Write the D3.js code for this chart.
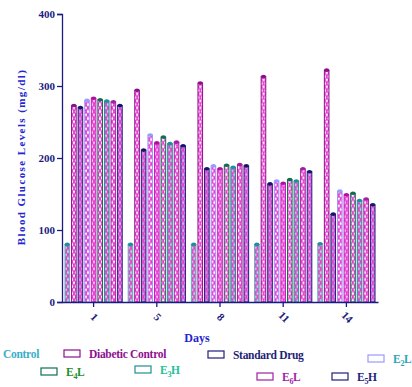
<!DOCTYPE html>
<html>
<head>
<meta charset="utf-8">
<script src="https://cdn.jsdelivr.net/npm/d3@7.9.0/dist/d3.min.js"></script>
<style>
  body { margin: 0; background: #fff; }
  svg text { font-family: 'Liberation Serif', 'Times New Roman', serif; font-weight: bold; }
</style>
</head>
<body>
<svg id="chart"></svg>
<script>
// days on the x axis
const days = ['1', '5', '8', '11', '14'];

// bar series, in drawing order inside each day group
const series = ['Control', 'Diabetic Control', 'Standard Drug', 'E2L', 'E2H', 'E4L', 'E3H', 'E6L', 'E5H'];

// blood glucose (mg/dl) per series, one value per day
const control   = [80, 80, 80, 80, 81];
const diabetic  = [273, 294, 304, 313, 322];
const standard  = [270, 211, 185, 164, 122];
const e2l       = [280, 232, 189, 168, 154];
const e2h       = [283, 221, 185, 165, 149];
const e4l       = [281, 229, 190, 170, 151];
const e3h       = [279, 220, 187, 168, 141];
const e6l       = [278, 222, 191, 185, 143];
const e5h       = [273, 217, 189, 181, 135];

const yTicks = [0, 100, 200, 300, 400];

const values = [control, diabetic, standard, e2l, e2h, e4l, e3h, e6l, e5h];

// outline / cap colour and pattern background for each series
const strokeColor = ['#5fb3b3', '#8e0f8e', '#1f1f78', '#9a9aff', '#c21fc2', '#0f6e4e', '#1f9090', '#a11fa1', '#1f1f80'];
const capColor    = ['#1f8f9a', '#8e0f8e', '#15156e', '#9a9aff', '#b0109e', '#0f6e4e', '#1f8f9a', '#a11fa1', '#15156e'];
const fillBg      = ['#a9d9d9', '#ffffff', '#b9a0dd', '#ffffff', '#f6c6f0', '#ffffff', '#a9d9d9', '#ffffff', '#c6b6ee'];

// legend entries: series index, box position, text colour
const legend = [
  { i: 0, x: -22, y: 350, text: 'Control', color: '#3aaec8' },
  { i: 1, x: 64, y: 350, text: 'Diabetic Control', color: '#8e108e' },
  { i: 2, x: 208, y: 351, text: 'Standard Drug', color: '#1f1f78' },
  { i: 3, x: 368, y: 355, text: 'E', sub: '2', tail: 'L', color: '#2fa5b5' },
  { i: 5, x: 41, y: 368, text: 'E', sub: '4', tail: 'L', color: '#1e8f2e' },
  { i: 6, x: 135, y: 366, text: 'E', sub: '3', tail: 'H', color: '#22c29a' },
  { i: 7, x: 257, y: 373, text: 'E', sub: '6', tail: 'L', color: '#a11fa1' },
  { i: 8, x: 332, y: 373, text: 'E', sub: '5', tail: 'H', color: '#1f1f78' },
];

const width = 412;
const height = 387;
const margin = { top: 14, right: 34, bottom: 85, left: 62 };

const svg = d3.select('#chart').attr('width', width).attr('height', height);

// hatched fill, one pattern per series
const defs = svg.append('defs');
series.forEach((s, i) => {
  const p = defs.append('pattern')
    .attr('id', 'hatch' + i)
    .attr('patternUnits', 'userSpaceOnUse')
    .attr('width', 4)
    .attr('height', 7);
  p.append('rect').attr('width', 4).attr('height', 7).attr('fill', fillBg[i]);
  p.append('path')
    .attr('d', 'M0,0 Q3,3.5 4,7 M4,0 Q1,3.5 0,7')
    .attr('fill', 'none')
    .attr('stroke', '#e83dd0')
    .attr('stroke-width', 1.3);
});

const x0 = d3.scaleBand()
  .domain(days)
  .range([margin.left, width - margin.right]);

const x1 = d3.scaleBand()
  .domain(series)
  .range([1, x0.bandwidth() - 1])
  .padding(0.3);

const y = d3.scaleLinear()
  .domain([0, 400])
  .range([height - margin.bottom, margin.top]);

const axisColor = '#1c1c80';

// bars
const groups = svg.append('g')
  .selectAll('g')
  .data(days)
  .join('g')
  .attr('transform', (d) => `translate(${x0(d)},0)`);

groups.selectAll('rect')
  .data((d, di) => series.map((s, si) => ({ s, si, v: values[si][di] })))
  .join('rect')
  .attr('x', (d) => x1(d.s))
  .attr('y', (d) => y(d.v))
  .attr('width', x1.bandwidth())
  .attr('height', (d) => y(0) - y(d.v))
  .attr('fill', (d) => `url(#hatch${d.si})`)
  .attr('stroke', (d) => strokeColor[d.si])
  .attr('stroke-width', 1);

groups.selectAll('ellipse')
  .data((d, di) => series.map((s, si) => ({ s, si, v: values[si][di] })))
  .join('ellipse')
  .attr('cx', (d) => x1(d.s) + x1.bandwidth() / 2)
  .attr('cy', (d) => y(d.v))
  .attr('rx', 2.6)
  .attr('ry', 1.8)
  .attr('fill', (d) => capColor[d.si]);

// y axis
const yAxis = svg.append('g')
  .attr('transform', `translate(${margin.left},0)`)
  .call(d3.axisLeft(y).tickValues(yTicks).tickSize(5).tickPadding(2));
yAxis.selectAll('path, line').attr('stroke', axisColor).attr('stroke-width', 1.3);
yAxis.selectAll('text')
  .attr('fill', axisColor)
  .style('font-size', '11px');

// x axis
const xAxis = svg.append('g')
  .attr('transform', `translate(0,${y(0)})`)
  .call(d3.axisBottom(x0).tickSize(5).tickSizeOuter(0));
xAxis.selectAll('path, line').attr('stroke', axisColor).attr('stroke-width', 1.3);
xAxis.selectAll('text')
  .attr('fill', axisColor)
  .style('font-size', '11px')
  .attr('text-anchor', 'middle')
  .attr('dy', null)
  .attr('y', 0)
  .attr('transform', 'translate(0,16) rotate(45)')
  .attr('dominant-baseline', 'middle');

// axis titles
svg.append('text')
  .attr('x', 197)
  .attr('y', 342)
  .attr('text-anchor', 'middle')
  .attr('fill', '#2424d0')
  .style('font-size', '12px')
  .text('Days');

svg.append('text')
  .attr('transform', 'translate(25,157) rotate(-90)')
  .attr('text-anchor', 'middle')
  .attr('fill', '#2424d0')
  .style('font-size', '11px')
  .style('letter-spacing', '1.4px')
  .text('Blood Glucose Levels (mg/dl)');

// legend
const lg = svg.append('g')
  .selectAll('g')
  .data(legend)
  .join('g')
  .attr('transform', (d) => `translate(${d.x},${d.y})`);

lg.append('rect')
  .attr('width', 16)
  .attr('height', 7)
  .attr('fill', '#fff')
  .attr('stroke', (d) => strokeColor[d.i])
  .attr('stroke-width', 1.2);

const lt = lg.append('text')
  .attr('x', 25)
  .attr('y', 8)
  .attr('fill', (d) => d.color)
  .style('font-size', '11.5px')
  .style('letter-spacing', '-0.3px');
lt.append('tspan').text((d) => d.text);
lt.filter((d) => d.sub).append('tspan')
  .attr('dy', 3)
  .style('font-size', '8px')
  .text((d) => d.sub);
lt.filter((d) => d.tail).append('tspan')
  .attr('dy', -3)
  .text((d) => d.tail);
</script>
</body>
</html>
